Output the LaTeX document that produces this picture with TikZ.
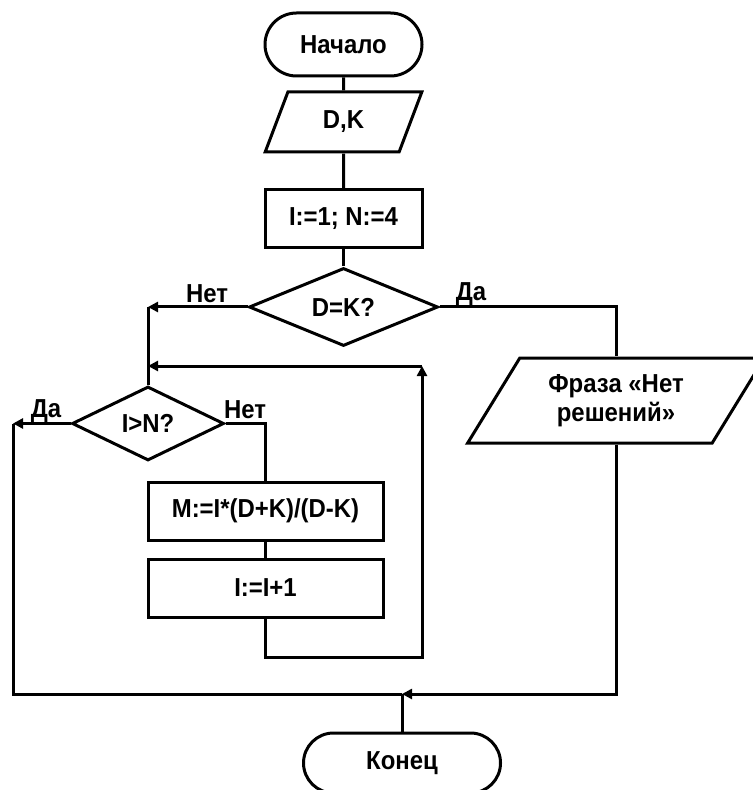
\documentclass[tikz,border=0pt]{standalone}
\usepackage{fontspec}
\setmainfont[FakeStretch=0.92]{Liberation Sans}
\usetikzlibrary{shapes,arrows.meta,positioning}

\tikzset{
	term/.style={draw, rounded rectangle, inner sep=0pt},
	proc/.style={draw, rectangle, inner sep=0pt},
	cond/.style={draw, diamond, aspect=2.4, inner sep=0pt},
	io/.style={draw, trapezium, trapezium stretches=true, inner sep=0pt},
	arr/.style={-{Triangle[length=5pt,width=5pt]}}
}

\begin{document}
\begin{tikzpicture}[x=0.5pt,y=-0.5pt,line width=1.5pt,
	every node/.append style={font=\fontsize{13}{14.5}\selectfont\bfseries}]
	\useasboundingbox (0,0) rectangle (752,790);

	\node[term, minimum width=78.5pt, minimum height=31.5pt] (1) at (343.5,44.5) {Начало};
	\node[io, minimum width=78.5pt, minimum height=30pt, trapezium left angle=69, trapezium right angle=111] (2) at (343.5,122) {D,K};
	\node[proc, minimum width=78.5pt, minimum height=29pt] (3) at (343.5,219) {I:=1; N:=4};
	\node[cond, minimum width=94.5pt, minimum height=39pt] (4) at (343.5,307) {D=K?};
	\node[cond, minimum width=76pt, minimum height=37pt] (5) at (148,423.5) {I>N?};
	\node[io, minimum width=148.5pt, minimum height=42.5pt, trapezium left angle=55, trapezium right angle=125, align=center] (6) at (616,400.5) {Фраза «Нет\\решений»};
	\node[proc, minimum width=117.5pt, minimum height=29pt] (7) at (265.5,511) {M:=I*(D+K)/(D-K)};
	\node[proc, minimum width=117.5pt, minimum height=29pt] (8) at (265.5,588) {I:=I+1};
	\node[term, minimum width=98.5pt, minimum height=30pt] (9) at (402,763) {Конец};

	\node (n1) at (207,294) {Нет};
	\node (n2) at (471,294) {Да};
	\node (n3) at (46,411) {Да};
	\node (n4) at (245,410) {Нет};

	\coordinate (a) at (148,307);
	\coordinate (b) at (148,366);
	\coordinate (c) at (422,366);
	\coordinate (g) at (422,657);
	\coordinate (e) at (13,423.5);
	\coordinate (f) at (402,694);

	\path [-]
	(1) edge (2)
	(2) edge (3)
	(3) edge (4)
	(7) edge (8);

	\draw[arr] (4.west) -- (a);
	\draw (a) -- (5.north);
	\draw (4.east) -| (6.north);
	\draw (5.east) -| (7.north);
	\draw[arr] (8.south) |- (g) -- (c);
	\draw[arr] (c) -- (b);
	\draw[arr] (5.west) -- (e);
	\draw (e) |- (f);
	\draw[arr] (6.south) |- (f);
	\draw (f) -- (9.north);
\end{tikzpicture}
\end{document}
